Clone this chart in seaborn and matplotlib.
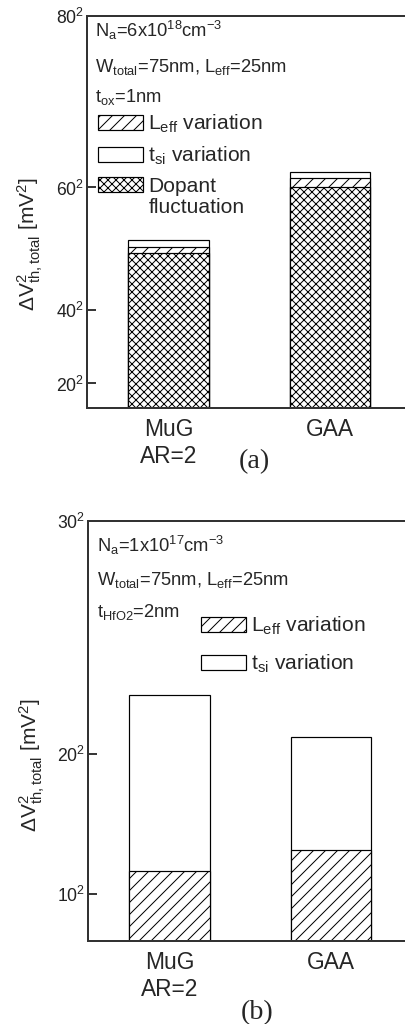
import numpy as np
import matplotlib
matplotlib.use("Agg")
import matplotlib.pyplot as plt
from matplotlib.patches import Patch
import seaborn as sns

# data (mV^2)
categories = ["MuG\nAR=2", "GAA"]
a_dopant = [2530, 3600]
a_leff = [105, 156]
a_tsi = [115, 93]
b_leff = [150, 194]
b_tsi = [376, 244]

a_tick_roots = [20, 40, 60, 80]
b_tick_roots = [10, 20, 30]

sns.set_theme(style="ticks")
plt.rcParams["font.family"] = ["Liberation Sans", "DejaVu Sans"]
plt.rcParams["mathtext.fontset"] = "custom"
plt.rcParams["mathtext.rm"] = "Liberation Sans"
plt.rcParams["mathtext.it"] = "Liberation Sans"
plt.rcParams["mathtext.bf"] = "Liberation Sans:bold"
plt.rcParams["hatch.linewidth"] = 0.5
plt.rcParams["axes.edgecolor"] = "#333333"

DPI = 144
fig = plt.figure(figsize=(405 / DPI, 1024 / DPI), dpi=DPI)
ax1 = fig.add_axes([0.2148, 0.6016, 0.795, 0.3828])
ax2 = fig.add_axes([0.2173, 0.0811, 0.795, 0.4102])

bar_kw = dict(color="white", edgecolor="black", linewidth=0.6, width=0.5, saturation=1)
LEFF_HATCH = "////"
DOPANT_HATCH = "xxxxxx"


def style_axis(ax, roots, top):
    ticks = [r ** 2 for r in roots]
    ax.set_ylim(0, top)
    ax.set_xlim(-0.505, 1.49)
    ax.set_yticks(ticks)
    ax.set_yticklabels([f"${r}^2$" for r in roots])
    ax.tick_params(axis="y", direction="in", length=4.5, width=0.9, pad=1.5,
                   labelsize=8.8, colors="#222222")
    ax.tick_params(axis="x", length=0, pad=5, labelsize=11.4)
    for s in ax.spines.values():
        s.set_linewidth(1.0)
    ax.set_xlabel("")
    ax.set_ylabel(r"$\Delta$V$^2_{th,total}$ [mV$^2$]", fontsize=10.5)


# ---- panel (a): stacked by overlaying cumulative totals
a_mid = np.array(a_dopant) + np.array(a_leff)
a_total = a_mid + np.array(a_tsi)
sns.barplot(x=categories, y=a_total, ax=ax1, **bar_kw)
sns.barplot(x=categories, y=a_mid, ax=ax1, hatch=LEFF_HATCH, **bar_kw)
sns.barplot(x=categories, y=a_dopant, ax=ax1, hatch=DOPANT_HATCH, **bar_kw)
style_axis(ax1, a_tick_roots, 6400)
ax1.yaxis.set_label_coords(-0.131, 0.418)

txt = dict(transform=ax1.transAxes, fontsize=9.2, va="baseline", ha="left")
ax1.text(0.025, 0.946, r"N$_a$=6x10$^{18}$cm$^{-3}$", **txt)
ax1.text(0.025, 0.858, r"W$_{total}$=75nm, L$_{eff}$=25nm", **txt)
ax1.text(0.025, 0.781, r"t$_{ox}$=1nm", **txt)

handles_a = [Patch(facecolor="white", edgecolor="black", hatch=LEFF_HATCH, linewidth=0.6),
             Patch(facecolor="white", edgecolor="black", linewidth=0.6),
             Patch(facecolor="white", edgecolor="black", hatch=DOPANT_HATCH, linewidth=0.6)]
labels_a = [r"L$_{eff}$ variation", r"t$_{si}$ variation", "Dopant"]
ax1.legend(handles_a, labels_a, loc="upper left", bbox_to_anchor=(0.034, 0.752),
           frameon=False, fontsize=10.5, handlelength=2.14, handleheight=0.71,
           handletextpad=0.25, labelspacing=0.45, borderpad=0, borderaxespad=0)
ax1.text(0.191, 0.497, "fluctuation", transform=ax1.transAxes, fontsize=10.5,
         va="baseline", ha="left")

# ---- panel (b)
b_total = np.array(b_leff) + np.array(b_tsi)
sns.barplot(x=categories, y=b_total, ax=ax2, **bar_kw)
sns.barplot(x=categories, y=b_leff, ax=ax2, hatch=LEFF_HATCH, **bar_kw)
style_axis(ax2, b_tick_roots, 900)
ax2.yaxis.set_label_coords(-0.128, 0.419)

txt = dict(transform=ax2.transAxes, fontsize=9.2, va="baseline", ha="left")
ax2.text(0.028, 0.926, r"N$_a$=1x10$^{17}$cm$^{-3}$", **txt)
ax2.text(0.028, 0.848, r"W$_{total}$=75nm, L$_{eff}$=25nm", **txt)
ax2.text(0.028, 0.772, r"t$_{HfO2}$=2nm", **txt)

ax2.legend(handles_a[:2], labels_a[:2], loc="upper left", bbox_to_anchor=(0.35, 0.776),
           frameon=False, fontsize=10.5, handlelength=2.14, handleheight=0.71,
           handletextpad=0.25, labelspacing=0.75, borderpad=0, borderaxespad=0)

fig.text(0.628, 0.549, "(a)", family="Liberation Serif", fontsize=14, ha="center", va="center")
fig.text(0.634, 0.0107, "(b)", family="Liberation Serif", fontsize=14, ha="center", va="center")

fig.savefig("out.png", dpi=DPI)
